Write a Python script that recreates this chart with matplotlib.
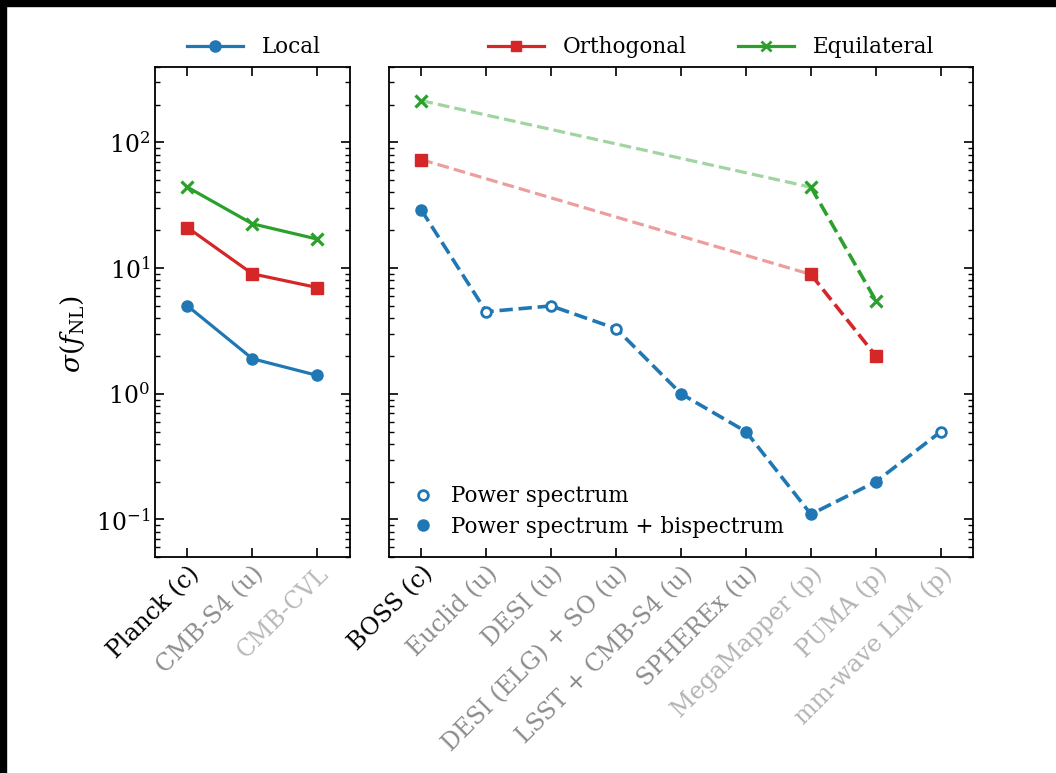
import numpy as np
import matplotlib
matplotlib.use('Agg')
import matplotlib.pyplot as plt
from matplotlib.lines import Line2D
from matplotlib.patches import Rectangle

plt.rcParams['font.family'] = ['DejaVu Serif']
plt.rcParams['mathtext.fontset'] = 'dejavuserif'

# --- Data ---
cmbSurveys = ['Planck (c)', 'CMB-S4 (u)', 'CMB-CVL']
cmbLocal = [5.0, 1.9, 1.4]
cmbOrtho = [21.0, 9.0, 7.0]
cmbEquil = [44.0, 22.5, 17.0]
cmbLabelColors = ['black', '#8c8c8c', '#b8b8b8']

lssSurveys = ['BOSS (c)', 'Euclid (u)', 'DESI (u)', 'DESI (ELG) + SO (u)',
              'LSST + CMB-S4 (u)', 'SPHEREx (u)', 'MegaMapper (p)',
              'PUMA (p)', 'mm-wave LIM (p)']
lssLocal = [29.0, 4.5, 5.0, 3.3, 1.0, 0.5, 0.11, 0.2, 0.5]
lssBispec = [True, False, False, False, True, True, True, True, False]
lssLabelColors = ['black'] + ['#8c8c8c'] * 5 + ['#b3b3b3'] * 3

lssOtherIdx = [0, 6, 7]  # BOSS, MegaMapper, PUMA
lssOrtho = [73.0, 8.9, 2.0]
lssEquil = [215.0, 44.0, 5.5]

cLocal, cOrtho, cEquil = '#1f77b4', '#d62728', '#2ca02c'
fsLeg = 15.5
fsX = 17
fsY = 17

fig = plt.figure(figsize=(10.56, 7.73), dpi=100)
gs = fig.add_gridspec(1, 2, width_ratios=[3, 9], wspace=0.1,
                      left=0.1468, right=0.9217, top=0.9137, bottom=0.279)
axL = fig.add_subplot(gs[0])
axR = fig.add_subplot(gs[1], sharey=axL)

# --- Left panel: CMB ---
xc = np.arange(len(cmbSurveys))
axL.plot(xc, cmbLocal, '-o', color=cLocal, lw=2.3, ms=8)
axL.plot(xc, cmbOrtho, '-s', color=cOrtho, lw=2.3, ms=8)
axL.plot(xc, cmbEquil, '-x', color=cEquil, lw=2.3, ms=8, mew=2.3)

# --- Right panel: LSS ---
xl = np.arange(len(lssSurveys))
bis = np.array(lssBispec)
axR.plot(xl, lssLocal, '--', color=cLocal, lw=2.6, zorder=2)
axR.plot(xl[bis], np.array(lssLocal)[bis], 'o', ls='none', color=cLocal,
         ms=8, zorder=3)
axR.plot(xl[~bis], np.array(lssLocal)[~bis], 'o', ls='none', color=cLocal,
         mfc='white', mew=2.0, ms=7, zorder=3)

xo = xl[lssOtherIdx]
for vals, col, mk in [(lssOrtho, cOrtho, 's'), (lssEquil, cEquil, 'x')]:
    axR.plot(xo[:2], vals[:2], '--', color=col, lw=2.3, alpha=0.45)
    axR.plot(xo[1:], vals[1:], '--', color=col, lw=2.6)
    kw = dict(mew=2.3) if mk == 'x' else {}
    axR.plot(xo, vals, mk, ls='none', color=col, ms=8, zorder=3, **kw)

# --- Axes styling ---
axL.set_yscale('log')
axL.set_ylim(0.05, 400)
axL.set_xlim(-0.5, 2.5)
axR.set_xlim(-0.5, 8.5)
for ax, labels, cols in [(axL, cmbSurveys, cmbLabelColors),
                         (axR, lssSurveys, lssLabelColors)]:
    ax.set_xticks(np.arange(len(labels)))
    ax.set_xticklabels(labels, rotation=45, ha='right',
                       rotation_mode='anchor', fontsize=fsX)
    for t, c in zip(ax.get_xticklabels(), cols):
        t.set_color(c)
    ax.tick_params(which='both', direction='in', top=True, right=True)
    ax.tick_params(which='major', length=6.5, width=1.2)
    ax.tick_params(axis='y', labelsize=fsY)
    ax.tick_params(which='minor', length=3.5, width=1.0)
    ax.tick_params(axis='x', which='minor', top=False, bottom=False)
    for sp in ax.spines.values():
        sp.set_linewidth(1.3)
axR.tick_params(axis='y', labelleft=False)
axL.set_ylabel(r'$\sigma(f_{\rm NL})$', fontsize=19)
axL.yaxis.set_label_coords(-0.35, 0.455)

# --- Legends ---
hLocal = [Line2D([], [], color=cLocal, marker='o', lw=2.3, ms=8)]
axL.legend(hLocal, ['Local'], loc='lower left', bbox_to_anchor=(0.165, 1.017),
           frameon=False, fontsize=fsLeg, borderpad=0, borderaxespad=0,
           handlelength=2.6, handletextpad=0.88)
hOther = [Line2D([], [], color=cOrtho, marker='s', lw=2.3, ms=7),
          Line2D([], [], color=cEquil, marker='x', lw=2.3, ms=7, mew=2)]
legTop = axR.legend(hOther, ['Orthogonal', 'Equilateral'], loc='lower left',
                    bbox_to_anchor=(0.169, 1.017), ncol=2, frameon=False,
                    fontsize=fsLeg, borderpad=0, borderaxespad=0,
                    handlelength=2.6, handletextpad=0.88, columnspacing=2.4)
axR.add_artist(legTop)
hPk = [Line2D([], [], color=cLocal, marker='o', ls='none', mfc='white',
              mew=2.0, ms=7),
       Line2D([], [], color=cLocal, marker='o', ls='none', ms=8)]
axR.legend(hPk, ['Power spectrum', 'Power spectrum + bispectrum'],
           loc='lower left', bbox_to_anchor=(0.044, 0.04), frameon=False,
           fontsize=fsLeg, handlelength=0.8, handletextpad=0.9,
           borderpad=0, borderaxespad=0, labelspacing=0.4)

# screenshot border strips
fig.patches.append(Rectangle((0, 0.992), 1, 0.008, transform=fig.transFigure,
                             color='black', zorder=10))
fig.patches.append(Rectangle((0, 0), 0.0055, 1, transform=fig.transFigure,
                             color='black', zorder=10))

plt.savefig('out.png', dpi=100)
plt.close()
